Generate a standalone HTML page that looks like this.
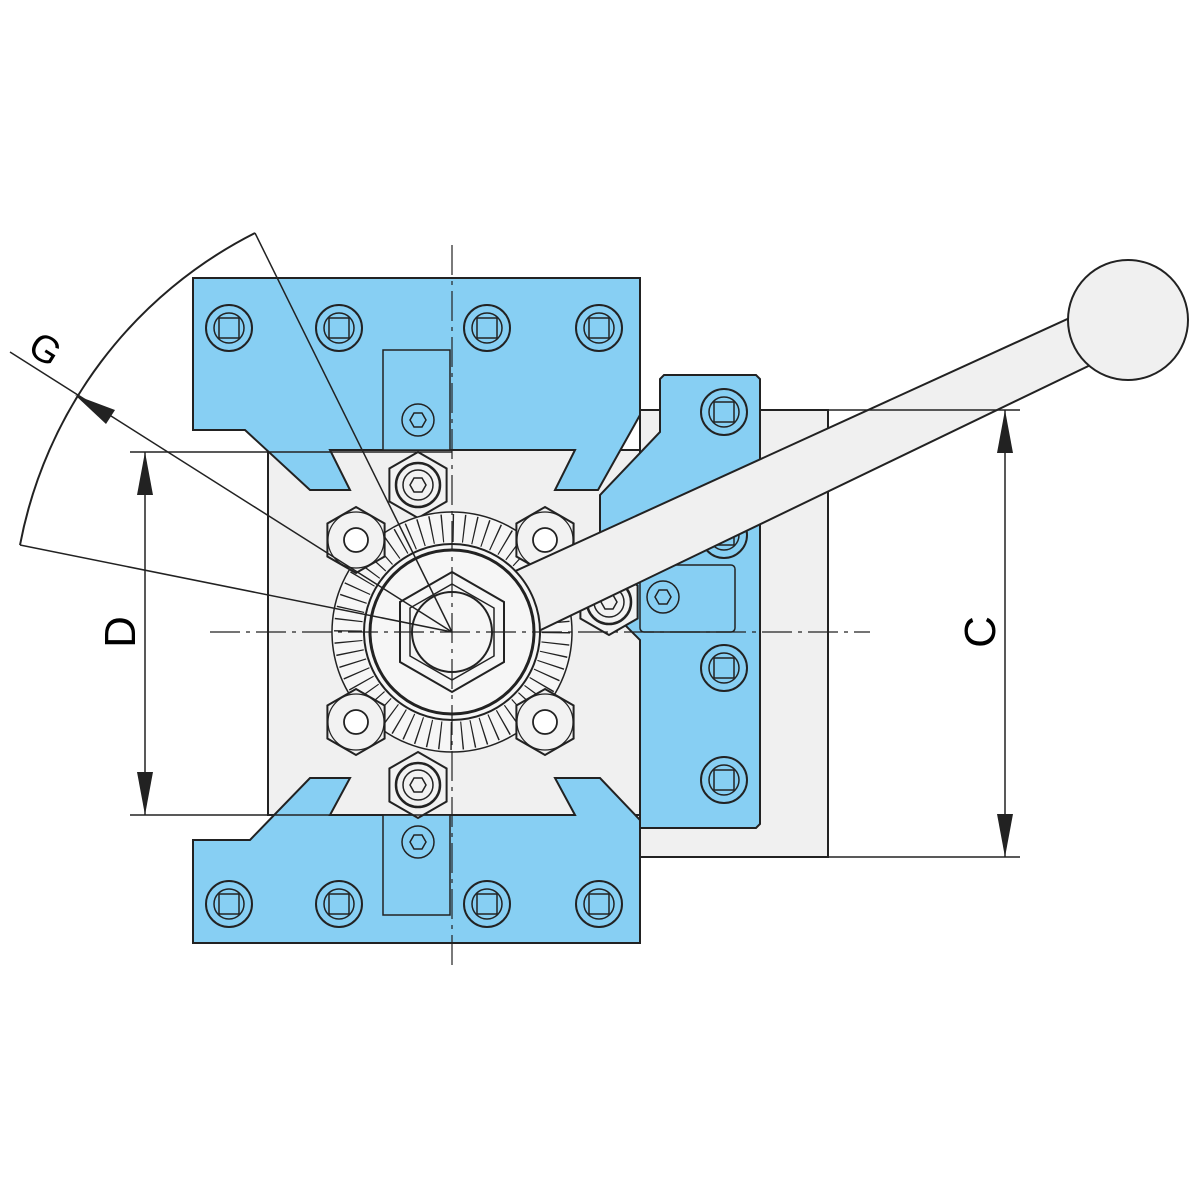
<!DOCTYPE html>
<html><head><meta charset="utf-8"><style>html,body{margin:0;padding:0;background:#fff}svg{display:block}</style></head>
<body>
<svg width="1200" height="1200" viewBox="0 0 1200 1200" xmlns="http://www.w3.org/2000/svg" font-family="Liberation Sans, sans-serif">
<defs>
<g id="bolt"><circle r="23" fill="#87cff3" stroke="#222" stroke-width="2"/><circle r="15" fill="none" stroke="#222" stroke-width="1.5"/><rect x="-10" y="-10" width="20" height="20" fill="none" stroke="#222" stroke-width="1.5"/></g>
<g id="nut"><polygon points="0,-33 28.6,-16.5 28.6,16.5 0,33 -28.6,16.5 -28.6,-16.5" fill="#f2f2f2" stroke="#222" stroke-width="2"/><circle r="28" fill="none" stroke="#222" stroke-width="1.2"/><circle r="12" fill="#fff" stroke="#222" stroke-width="1.8"/></g>
<g id="snut"><polygon points="0,-33 28.6,-16.5 28.6,16.5 0,33 -28.6,16.5 -28.6,-16.5" fill="#f2f2f2" stroke="#222" stroke-width="2"/><circle r="22" fill="none" stroke="#222" stroke-width="2.5"/><circle r="15" fill="none" stroke="#222" stroke-width="1.5"/><polygon points="-8,0 -4,-7 4,-7 8,0 4,7 -4,7" fill="none" stroke="#222" stroke-width="1.5"/></g>
<g id="cap"><circle r="16" fill="#87cff3" stroke="#222" stroke-width="1.5"/><polygon points="-8,0 -4,-7 4,-7 8,0 4,7 -4,7" fill="none" stroke="#222" stroke-width="1.5"/></g>
</defs>
<!-- right gray block -->
<rect x="640" y="410" width="188" height="447" fill="#f0f0f0" stroke="#222" stroke-width="2"/>
<!-- gray cross body -->
<polygon points="268,450 640,450 640,815 268,815" fill="#f0f0f0" stroke="#222" stroke-width="2"/>
<!-- top blue -->
<polygon points="193,278 640,278 640,415 598,490 555,490 575,450 330,450 350,490 310,490 245,430 193,430" fill="#87cff3" stroke="#222" stroke-width="2"/>
<!-- bottom blue -->
<polygon points="193,943 640,943 640,820 600,778 555,778 575,815 330,815 350,778 310,778 250,840 193,840" fill="#87cff3" stroke="#222" stroke-width="2"/>
<!-- right blue -->
<polygon points="664,375 756,375 760,379 760,824 756,828 640,828 640,640 600,600 600,495 660,432 660,379" fill="#87cff3" stroke="#222" stroke-width="2"/>
<!-- inner strips -->
<rect x="383" y="350" width="67" height="100" fill="#87cff3" stroke="#222" stroke-width="1.5"/>
<rect x="383" y="815" width="67" height="100" fill="#87cff3" stroke="#222" stroke-width="1.5"/>
<rect x="640" y="565" width="95" height="67" rx="4" fill="#87cff3" stroke="#222" stroke-width="1.5"/>
<!-- bolts -->
<use href="#bolt" x="229" y="328"/><use href="#bolt" x="339" y="328"/><use href="#bolt" x="487" y="328"/><use href="#bolt" x="599" y="328"/>
<use href="#bolt" x="229" y="904"/><use href="#bolt" x="339" y="904"/><use href="#bolt" x="487" y="904"/><use href="#bolt" x="599" y="904"/>
<use href="#bolt" x="724" y="412"/><use href="#bolt" x="724" y="535"/><use href="#bolt" x="724" y="668"/><use href="#bolt" x="724" y="780"/>
<use href="#cap" x="418" y="420"/><use href="#cap" x="418" y="842"/><use href="#cap" x="663" y="597"/>
<!-- screws -->
<use href="#snut" x="418" y="485"/><use href="#snut" x="418" y="785"/><use href="#snut" x="609" y="602"/>
<!-- knurled ring -->
<circle cx="452" cy="632" r="120" fill="#f6f6f6" stroke="#222" stroke-width="1.5"/>
<circle cx="452" cy="632" r="104" fill="none" stroke="#222" stroke-width="28" stroke-dasharray="1.3 9.6"/>
<!-- corner nuts -->
<use href="#nut" x="356" y="540"/><use href="#nut" x="545" y="540"/><use href="#nut" x="356" y="722"/><use href="#nut" x="545" y="722"/>
<!-- handle -->
<polygon points="500,578 1085,311 1105,358 520,640" fill="#f0f0f0" stroke="#222" stroke-width="2"/>
<circle cx="1128" cy="320" r="60" fill="#f0f0f0" stroke="#222" stroke-width="2"/>
<circle cx="452" cy="632" r="88" fill="#f6f6f6" stroke="#222" stroke-width="2"/>
<circle cx="452" cy="632" r="82" fill="none" stroke="#222" stroke-width="3"/>
<polygon points="452,572 504,602 504,662 452,692 400,662 400,602" fill="#f6f6f6" stroke="#222" stroke-width="2"/>
<polygon points="452,584 494,608 494,656 452,680 410,656 410,608" fill="none" stroke="#222" stroke-width="1.5"/>
<circle cx="452" cy="632" r="40" fill="#f6f6f6" stroke="#222" stroke-width="2"/>
<!-- centerlines -->
<line x1="210" y1="632" x2="870" y2="632" stroke="#222" stroke-width="1.2" stroke-dasharray="30 6 4 6"/>
<line x1="452" y1="245" x2="452" y2="968" stroke="#222" stroke-width="1.2" stroke-dasharray="30 6 4 6"/>
<!-- G dimension -->
<path d="M255,233 A442,442 0 0 0 20,545" fill="none" stroke="#222" stroke-width="2"/>
<line x1="255" y1="233" x2="452" y2="632" stroke="#222" stroke-width="1.5"/>
<line x1="20" y1="545" x2="452" y2="632" stroke="#222" stroke-width="1.5"/>
<line x1="10" y1="352" x2="452" y2="632" stroke="#222" stroke-width="1.5"/>
<polygon points="75,395 115,410 106,424" fill="#222"/>
<text x="30" y="362" font-size="38" transform="rotate(32 45 350)">G</text>
<!-- D dimension -->
<line x1="130" y1="452" x2="452" y2="452" stroke="#222" stroke-width="1.5"/>
<line x1="130" y1="815" x2="452" y2="815" stroke="#222" stroke-width="1.5"/>
<line x1="145" y1="452" x2="145" y2="815" stroke="#222" stroke-width="1.5"/>
<polygon points="145,452 137,495 153,495" fill="#222"/><polygon points="145,815 137,772 153,772" fill="#222"/>
<text font-size="44" transform="translate(135 632) rotate(-90)" text-anchor="middle">D</text>
<!-- C dimension -->
<line x1="828" y1="410" x2="1020" y2="410" stroke="#222" stroke-width="1.5"/>
<line x1="828" y1="857" x2="1020" y2="857" stroke="#222" stroke-width="1.5"/>
<line x1="1005" y1="410" x2="1005" y2="857" stroke="#222" stroke-width="1.5"/>
<polygon points="1005,410 997,453 1013,453" fill="#222"/><polygon points="1005,857 997,814 1013,814" fill="#222"/>
<text font-size="44" transform="translate(995 632) rotate(-90)" text-anchor="middle">C</text>
</svg>
</body></html>
